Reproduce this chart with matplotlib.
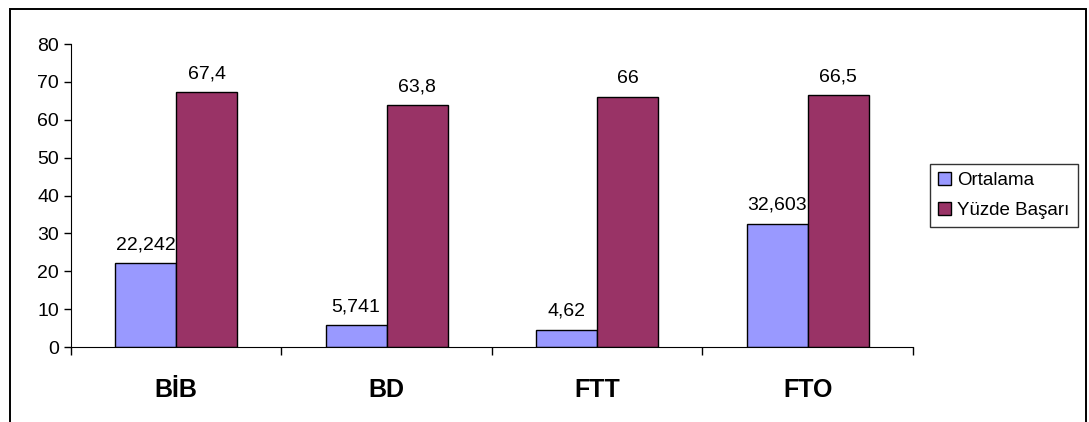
import numpy as np
import matplotlib.pyplot as plt
from matplotlib.patches import Rectangle
from matplotlib.ticker import FixedLocator, NullFormatter

plt.rcParams['font.family'] = ['Liberation Sans', 'DejaVu Sans']

categories = ['BİB', 'BD', 'FTT', 'FTO']
ortalama = [22.242, 5.741, 4.62, 32.603]
yuzde_basari = [67.4, 63.8, 66, 66.5]
ortalama_labels = ['22,242', '5,741', '4,62', '32,603']
basari_labels = ['67,4', '63,8', '66', '66,5']

fig = plt.figure(figsize=(10.89, 4.22), dpi=100)
ax = fig.add_axes([0.0652, 0.1777, 0.773, 0.718])

# outer chart border
fig.patches.append(Rectangle((0.0092, -0.01), 0.9885, 0.988, transform=fig.transFigure,
                             fill=False, edgecolor='black', linewidth=1.4))

x = np.arange(len(categories))
w = 0.29
b1 = ax.bar(x - w / 2, ortalama, w, color='#9999FF', edgecolor='black', linewidth=1, label='Ortalama')
b2 = ax.bar(x + w / 2, yuzde_basari, w, color='#993366', edgecolor='black', linewidth=1, label='Yüzde Başarı')

for bars, labels in [(b1, ortalama_labels), (b2, basari_labels)]:
    for bar, lab in zip(bars, labels):
        ax.annotate(lab, (bar.get_x() + bar.get_width() / 2, bar.get_height()),
                    xytext=(0, 7), textcoords='offset points', ha='center', va='bottom', fontsize=14)

ax.set_xlim(-0.5, 3.5)
ax.set_ylim(0, 80)
ax.set_yticks(range(0, 81, 10))
ax.tick_params(axis='y', labelsize=14, length=5, width=1, direction='out')

ax.xaxis.set_major_locator(FixedLocator([-0.5, 0.5, 1.5, 2.5, 3.5]))
ax.xaxis.set_major_formatter(NullFormatter())
ax.tick_params(axis='x', length=6, width=1, direction='out')
ax.xaxis.set_minor_locator(FixedLocator(x))
ax.set_xticklabels(categories, minor=True, fontsize=18, fontweight='bold')
ax.tick_params(axis='x', which='minor', length=0, pad=22)

for s in ['top', 'right']:
    ax.spines[s].set_visible(False)

leg = ax.legend(loc='center left', bbox_to_anchor=(1.02, 0.5), fontsize=13.5, frameon=True,
                fancybox=False, edgecolor='black', handlelength=0.7, handleheight=0.7,
                handletextpad=0.3, borderpad=0.45, labelspacing=0.65, borderaxespad=0)
leg.get_frame().set_linewidth(1)

fig.savefig('out.png', dpi=100)
